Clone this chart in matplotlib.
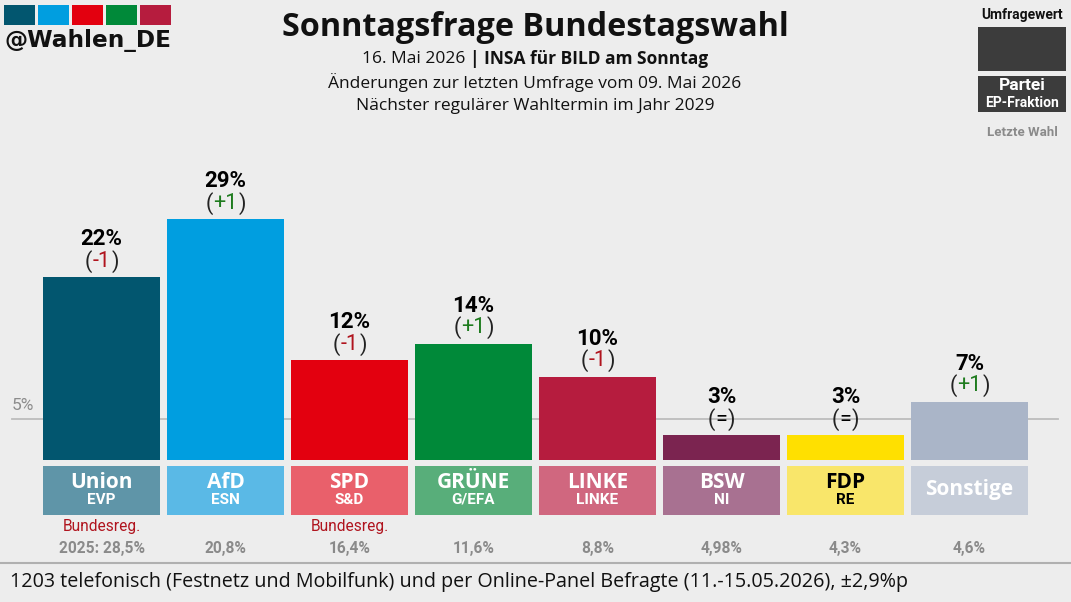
import numpy as np
import matplotlib
matplotlib.use('Agg')
from matplotlib import pyplot as plt
from matplotlib.patches import Rectangle
from matplotlib.offsetbox import TextArea, HPacker, AnnotationBbox

parties = ['Union', 'AfD', 'SPD', 'GRÜNE', 'LINKE', 'BSW', 'FDP', 'Sonstige']
groups = ['EVP', 'ESN', 'S&D', 'G/EFA', 'LINKE', 'NI', 'RE', '']
values = [22, 29, 12, 14, 10, 3, 3, 7]
changes = ['-1', '+1', '-1', '+1', '-1', '=', '=', '+1']
last_vote = ['2025: 28,5%', '20,8%', '16,4%', '11,6%', '8,8%', '4,98%', '4,3%', '4,6%']
in_gov = [True, False, True, False, False, False, False, False]

bar_colors = ['#02566F', '#009EE0', '#E3000F', '#008939', '#B61C3E', '#7B2450', '#FFE000', '#AAB5C8']
box_colors = ['#5F95A8', '#5AB9E6', '#E9606B', '#58AE7A', '#D0677F', '#A87191', '#F9E66A', '#C6CDD9']
name_colors = ['white'] * 6 + ['black', 'white']

BG = '#EDEDED'
W, H = 1071, 602
px_per = 8.3          # pixels per percentage point
base = 460            # baseline pixel (from top)
slot = 124
first_center = 101.5

fig = plt.figure(figsize=(W / 100, H / 100), dpi=100, facecolor=BG)
ax = fig.add_axes([0, 0, 1, 1])
ax.set_facecolor(BG)
x0 = -(first_center) / slot
ax.set_xlim(x0, x0 + W / slot)
ax.set_ylim(-(H - base) / px_per, base / px_per)
ax.axis('off')

x = np.arange(len(parties))
bw = 117 / slot

# 5% threshold line
ax.plot([x0 + 12 / slot, x0 + 1058 / slot], [5, 5], color='#BDBDBD', lw=1.3, zorder=1)
ax.text(x0 + 12 / slot, (base - 406) / px_per, '5%', color='#8C8C8C', fontsize=12.5,
        family='Roboto', ha='left', va='center')

ax.bar(x, values, width=bw, color=bar_colors, zorder=2)

chg_colors = {'-': '#B0141E', '+': '#1E7B1E', '=': 'black'}
for i, v in enumerate(values):
    ax.text(i, v + 38 / px_per, f'{v}%', ha='center', va='center', fontsize=16,
            fontweight='bold', family='Roboto', color='black')
    c = changes[i]
    prop = dict(fontsize=15.5, family='Roboto', color='#222222')
    parts = [TextArea('(', textprops=prop),
             TextArea(c, textprops=dict(prop, color=chg_colors[c[0]])),
             TextArea(')', textprops=prop)]
    pack = HPacker(children=parts, align='center', pad=0, sep=0.5)
    ab = AnnotationBbox(pack, (i, v + 16 / px_per), frameon=False,
                        box_alignment=(0.5, 0.5), pad=0)
    ax.add_artist(ab)

    # party label boxes
    ax.add_patch(Rectangle((i - bw / 2, (base - 515) / px_per), bw, 49 / px_per,
                           color=box_colors[i], lw=0, zorder=2))
    if groups[i]:
        ax.text(i, (base - 482) / px_per, parties[i], ha='center', va='center',
                fontsize=15, fontweight='bold', family='Open Sans', color=name_colors[i], zorder=3)
        ax.text(i, (base - 500) / px_per, groups[i], ha='center', va='center',
                fontsize=11, fontweight='bold', family='Roboto', color=name_colors[i], zorder=3)
    else:
        ax.text(i, (base - 490) / px_per, parties[i], ha='center', va='center',
                fontsize=15, fontweight='bold', family='Open Sans', color=name_colors[i], zorder=3)
    if in_gov[i]:
        ax.text(i, (base - 526) / px_per, 'Bundesreg.', ha='center', va='center',
                fontsize=11.2, family='Roboto', color='#B0141E')
    ax.text(i, (base - 548) / px_per, last_vote[i], ha='center', va='center',
            fontsize=11.2, fontweight='bold', family='Roboto', color='#8A8A8A')

# separator + footer
ax.plot([x0, x0 + W / slot], [(base - 563) / px_per] * 2, color='#B0B0B0', lw=1.5)
fig.text(10 / W, 1 - 582 / H,
         '1203 telefonisch (Festnetz und Mobilfunk) und per Online-Panel Befragte (11.-15.05.2026), ±2,9%p',
         fontsize=14.2, family='Open Sans', ha='left', va='center', color='#111111')

# title block
fig.text(535 / W, 1 - 28 / H, 'Sonntagsfrage Bundestagswahl', fontsize=23.3,
         fontweight='bold', family='Open Sans', ha='center', va='center', color='#111111')
sub = HPacker(children=[TextArea('16. Mai 2026 ', textprops=dict(fontsize=12.5, family='Open Sans', color='#111111')),
                        TextArea('| INSA für BILD am Sonntag', textprops=dict(fontsize=12.5, family='Open Sans',
                                                                             fontweight='bold', color='#111111'))],
              align='center', pad=0, sep=0)
fig.add_artist(AnnotationBbox(sub, (535 / W, 1 - 59 / H), xycoords='figure fraction',
                              frameon=False, box_alignment=(0.5, 0.5), pad=0))
fig.text(535 / W, 1 - 83 / H, 'Änderungen zur letzten Umfrage vom 09. Mai 2026', fontsize=12.5,
         family='Open Sans', ha='center', va='center', color='#111111')
fig.text(535 / W, 1 - 106 / H, 'Nächster regulärer Wahltermin im Jahr 2029', fontsize=12.5,
         family='Open Sans', ha='center', va='center', color='#111111')

# logo
logo_cols = ['#02566F', '#009EE0', '#E3000F', '#008939', '#B61C3E']
for k, col in enumerate(logo_cols):
    fig.add_artist(Rectangle(((4 + 34 * k) / W, 1 - 25 / H), 31 / W, 20 / H,
                             transform=fig.transFigure, color=col, lw=0))
fig.text(4 / W, 1 - 40 / H, '@Wahlen_DE', fontsize=16.7, fontweight='bold', family='DejaVu Sans',
         ha='left', va='center', color='#111111')

# legend (top right)
fig.text(1022 / W, 1 - 15 / H, 'Umfragewert', fontsize=10, fontweight='bold', family='Roboto',
         ha='center', va='center', color='#111111')
fig.add_artist(Rectangle((978 / W, 1 - 71 / H), 88 / W, 44 / H, transform=fig.transFigure,
                         color='#3C3C3C', lw=0))
fig.add_artist(Rectangle((978 / W, 1 - 112 / H), 88 / W, 36 / H, transform=fig.transFigure,
                         color='#3C3C3C', lw=0))
fig.text(1022 / W, 1 - 86 / H, 'Partei', fontsize=12.5, fontweight='bold', family='Roboto',
         ha='center', va='center', color='white')
fig.text(1022 / W, 1 - 103 / H, 'EP-Fraktion', fontsize=10, fontweight='bold', family='Roboto',
         ha='center', va='center', color='white')
fig.text(1022 / W, 1 - 133 / H, 'Letzte Wahl', fontsize=9.5, fontweight='bold', family='Roboto',
         ha='center', va='center', color='#8A8A8A')

fig.savefig('out.png', dpi=100, facecolor=BG)
